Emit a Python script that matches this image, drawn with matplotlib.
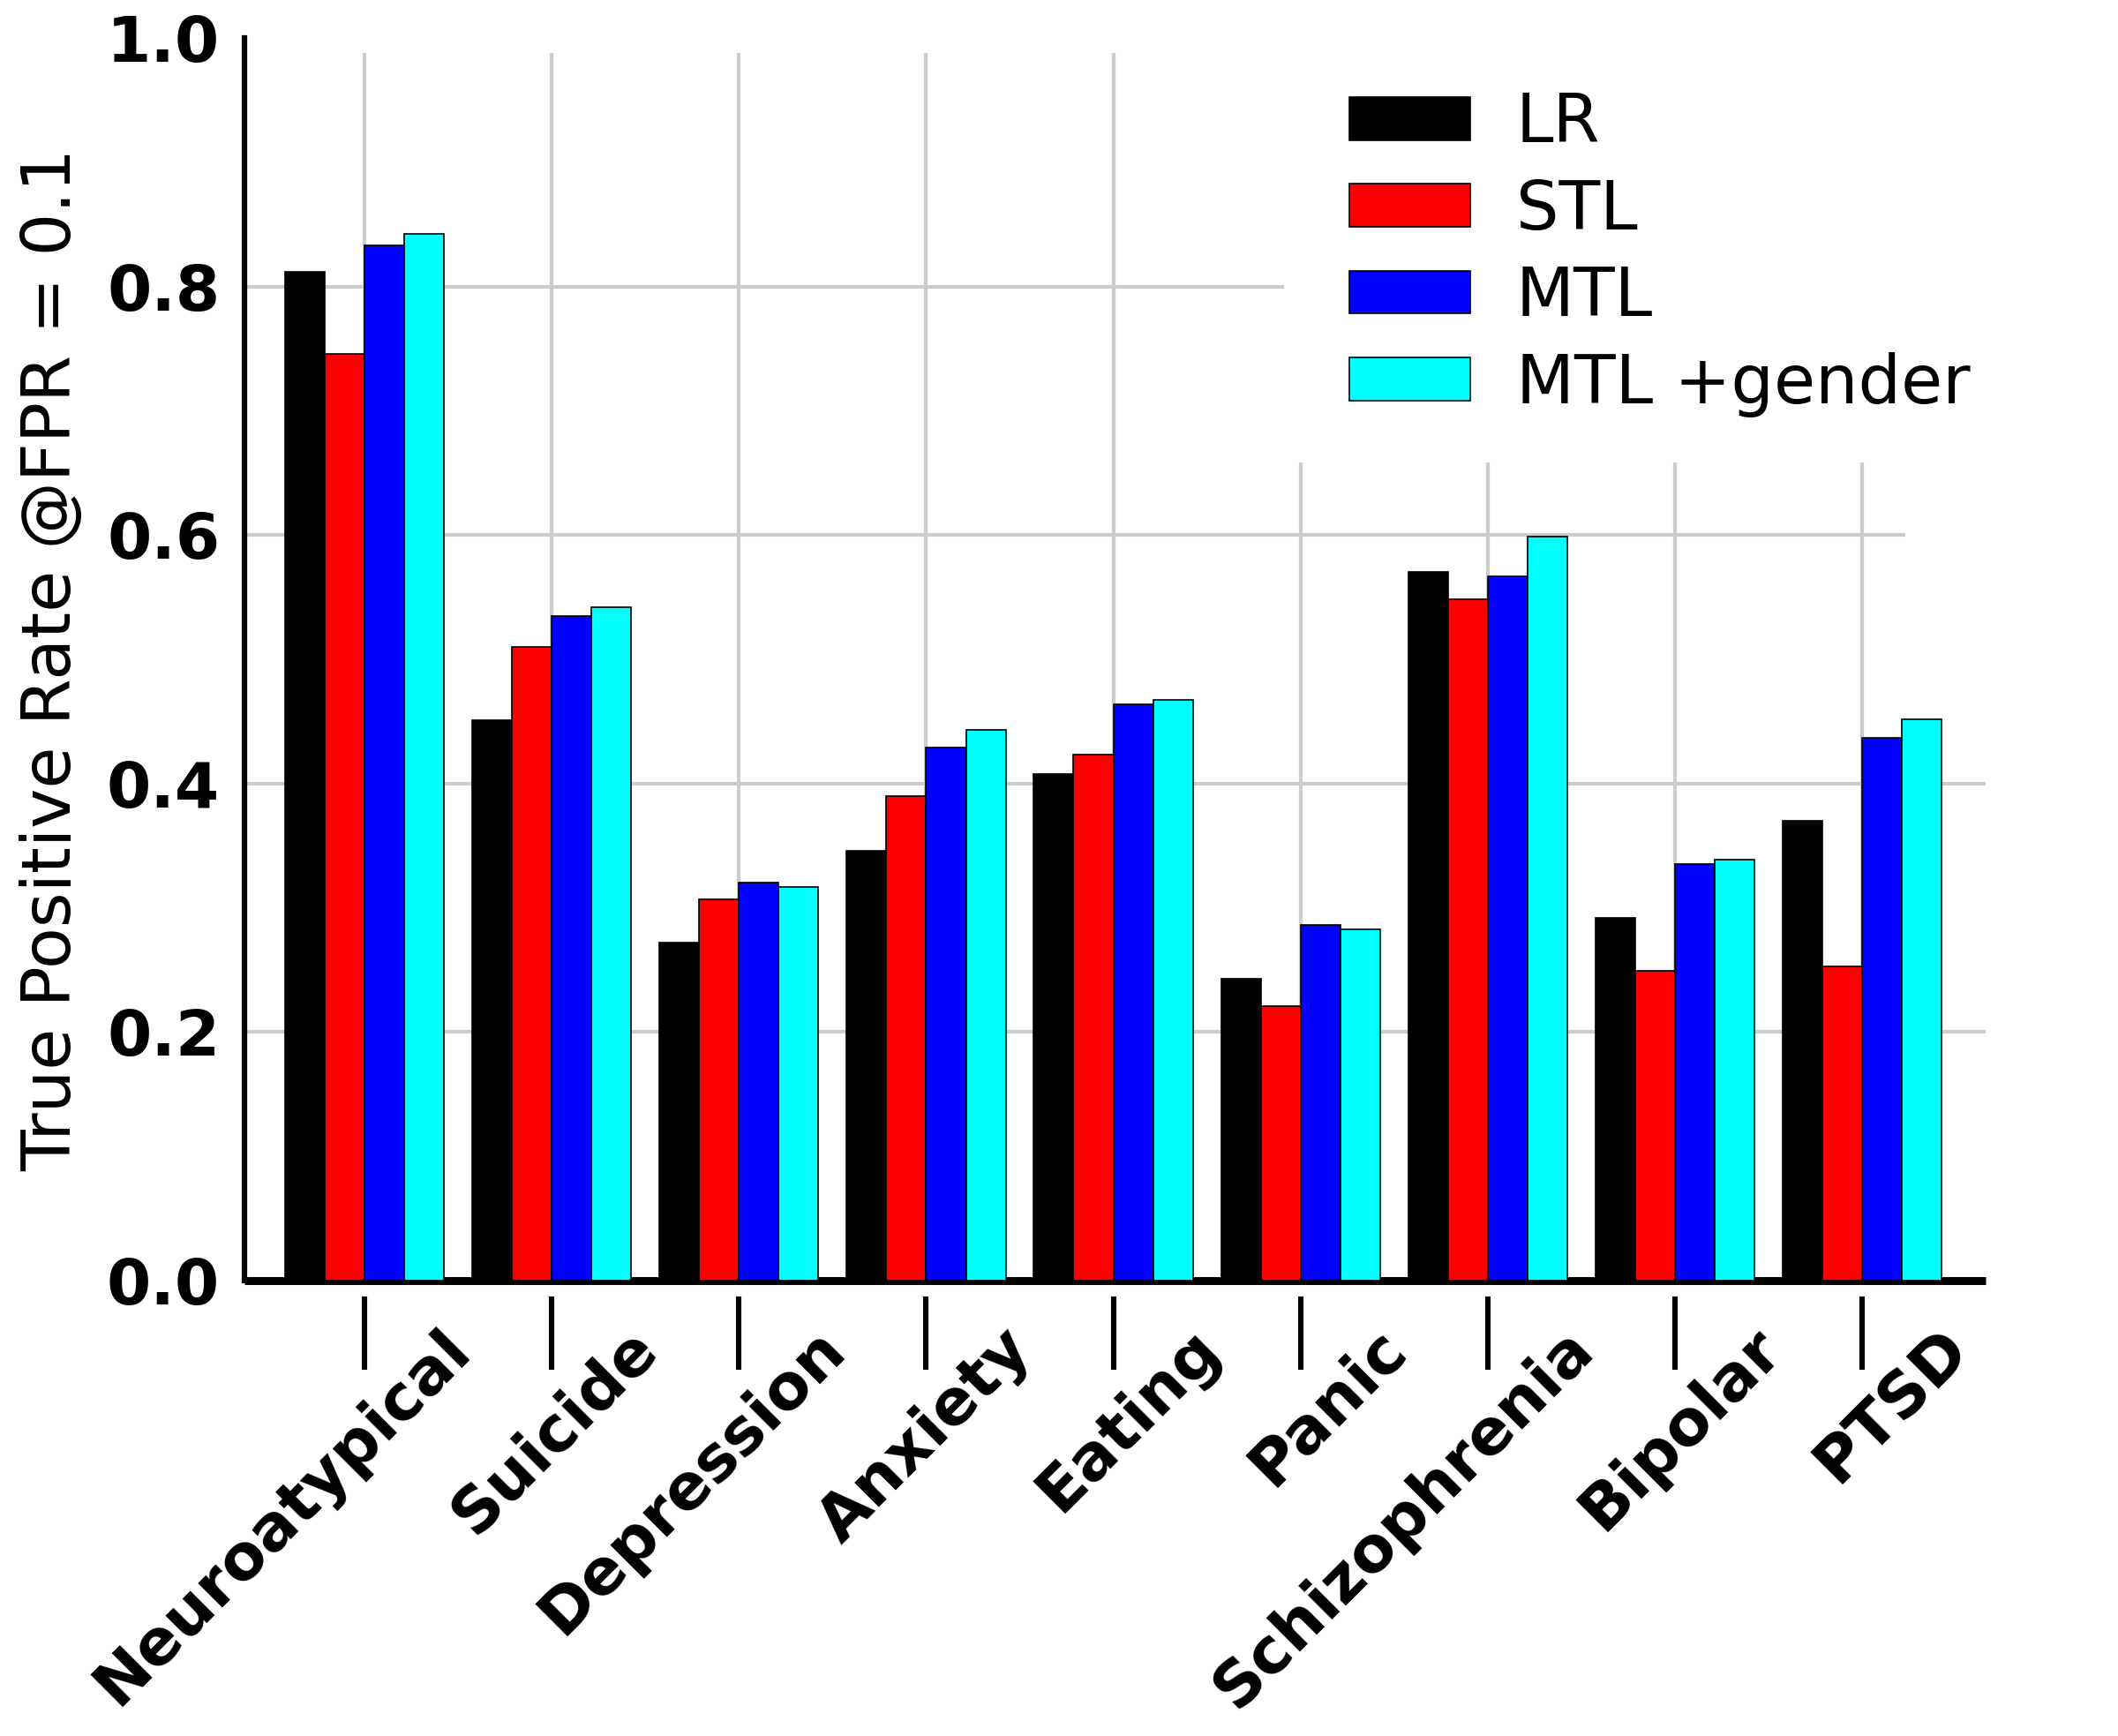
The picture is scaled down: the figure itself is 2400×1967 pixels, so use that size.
import numpy as np
import matplotlib.pyplot as plt
import matplotlib.transforms as mtransforms

# categories and the four model scores (TPR at FPR = 0.1)
categories = ["Neuroatypical", "Suicide", "Depression", "Anxiety", "Eating",
              "Panic", "Schizophrenia", "Bipolar", "PTSD"]
lr = [0.812, 0.451, 0.272, 0.346, 0.408, 0.243, 0.570, 0.292, 0.370]
stl = [0.746, 0.510, 0.307, 0.390, 0.423, 0.221, 0.548, 0.249, 0.253]
mtl = [0.833, 0.535, 0.320, 0.429, 0.464, 0.286, 0.567, 0.335, 0.437]
mtl_gender = [0.842, 0.542, 0.317, 0.443, 0.467, 0.283, 0.599, 0.339, 0.452]

series = [lr, stl, mtl, mtl_gender]
names = ["LR", "STL", "MTL", "MTL +gender"]
colors = ["#000000", "#ff0000", "#0000ff", "#00ffff"]

fig = plt.figure(figsize=(24, 19.67), dpi=100)
ax = fig.add_axes([0.1154, 0.2623, 0.8221, 0.7159])

x = np.arange(len(categories))
w = 0.2125
for i, (vals, name, col) in enumerate(zip(series, names, colors)):
    ax.bar(x + (i - 1.5) * w, vals, w, color=col, edgecolor="black",
           linewidth=1.2, label=name, zorder=3)

ax.set_xlim(-0.642, 8.66)
ax.set_ylim(0, 1.0)

# grid lines (the original figure has them cut short in places)
gcol = "#cccccc"
ax.vlines(x[:5], 0, 0.988, color=gcol, linewidth=3, zorder=0)
ax.vlines(x[5:], 0, 0.658, color=gcol, linewidth=3, zorder=0)
ax.axhline(0.2, color=gcol, linewidth=3, zorder=0)
ax.axhline(0.4, color=gcol, linewidth=3, zorder=0)
ax.axhline(0.6, xmax=0.953, color=gcol, linewidth=3, zorder=0)
ax.axhline(0.8, xmax=0.596, color=gcol, linewidth=3, zorder=0)

ax.set_yticks([0, 0.2, 0.4, 0.6, 0.8, 1.0])
ax.set_yticklabels(["0.0", "0.2", "0.4", "0.6", "0.8", "1.0"],
                   fontsize=52, fontweight="bold")
ax.tick_params(axis="y", length=0, pad=20)
ax.set_xticks(x)
ax.tick_params(axis="x", length=0, labelbottom=False)

for s in ["top", "right"]:
    ax.spines[s].set_visible(False)
ax.spines["left"].set_linewidth(4.5)
ax.spines["bottom"].set_linewidth(6.5)
ax.spines["bottom"].set_capstyle("butt")

ax.set_ylabel("True Positive Rate @FPR = 0.1", fontsize=55, labelpad=18)

# category ticks sit a little below the axis line
sec = ax.secondary_xaxis(-0.013)
sec.set_xticks(x)
sec.set_xticklabels(categories, fontsize=52, fontweight="bold",
                    rotation=45, ha="right", rotation_mode="anchor")
sec.spines["bottom"].set_visible(False)
sec.tick_params(axis="x", length=60, width=4.4, pad=10)
offset = mtransforms.ScaledTranslation(61 / 72, 53 / 72, fig.dpi_scale_trans)
for lab in sec.get_xticklabels():
    lab.set_transform(lab.get_transform() + offset)

leg = ax.legend(loc="upper right", bbox_to_anchor=(1.026, 1.006), frameon=False,
                fontsize=55, handlelength=1.79, handleheight=0.6,
                handletextpad=0.68, labelspacing=0.32)

fig.savefig("out.png", dpi=100)
